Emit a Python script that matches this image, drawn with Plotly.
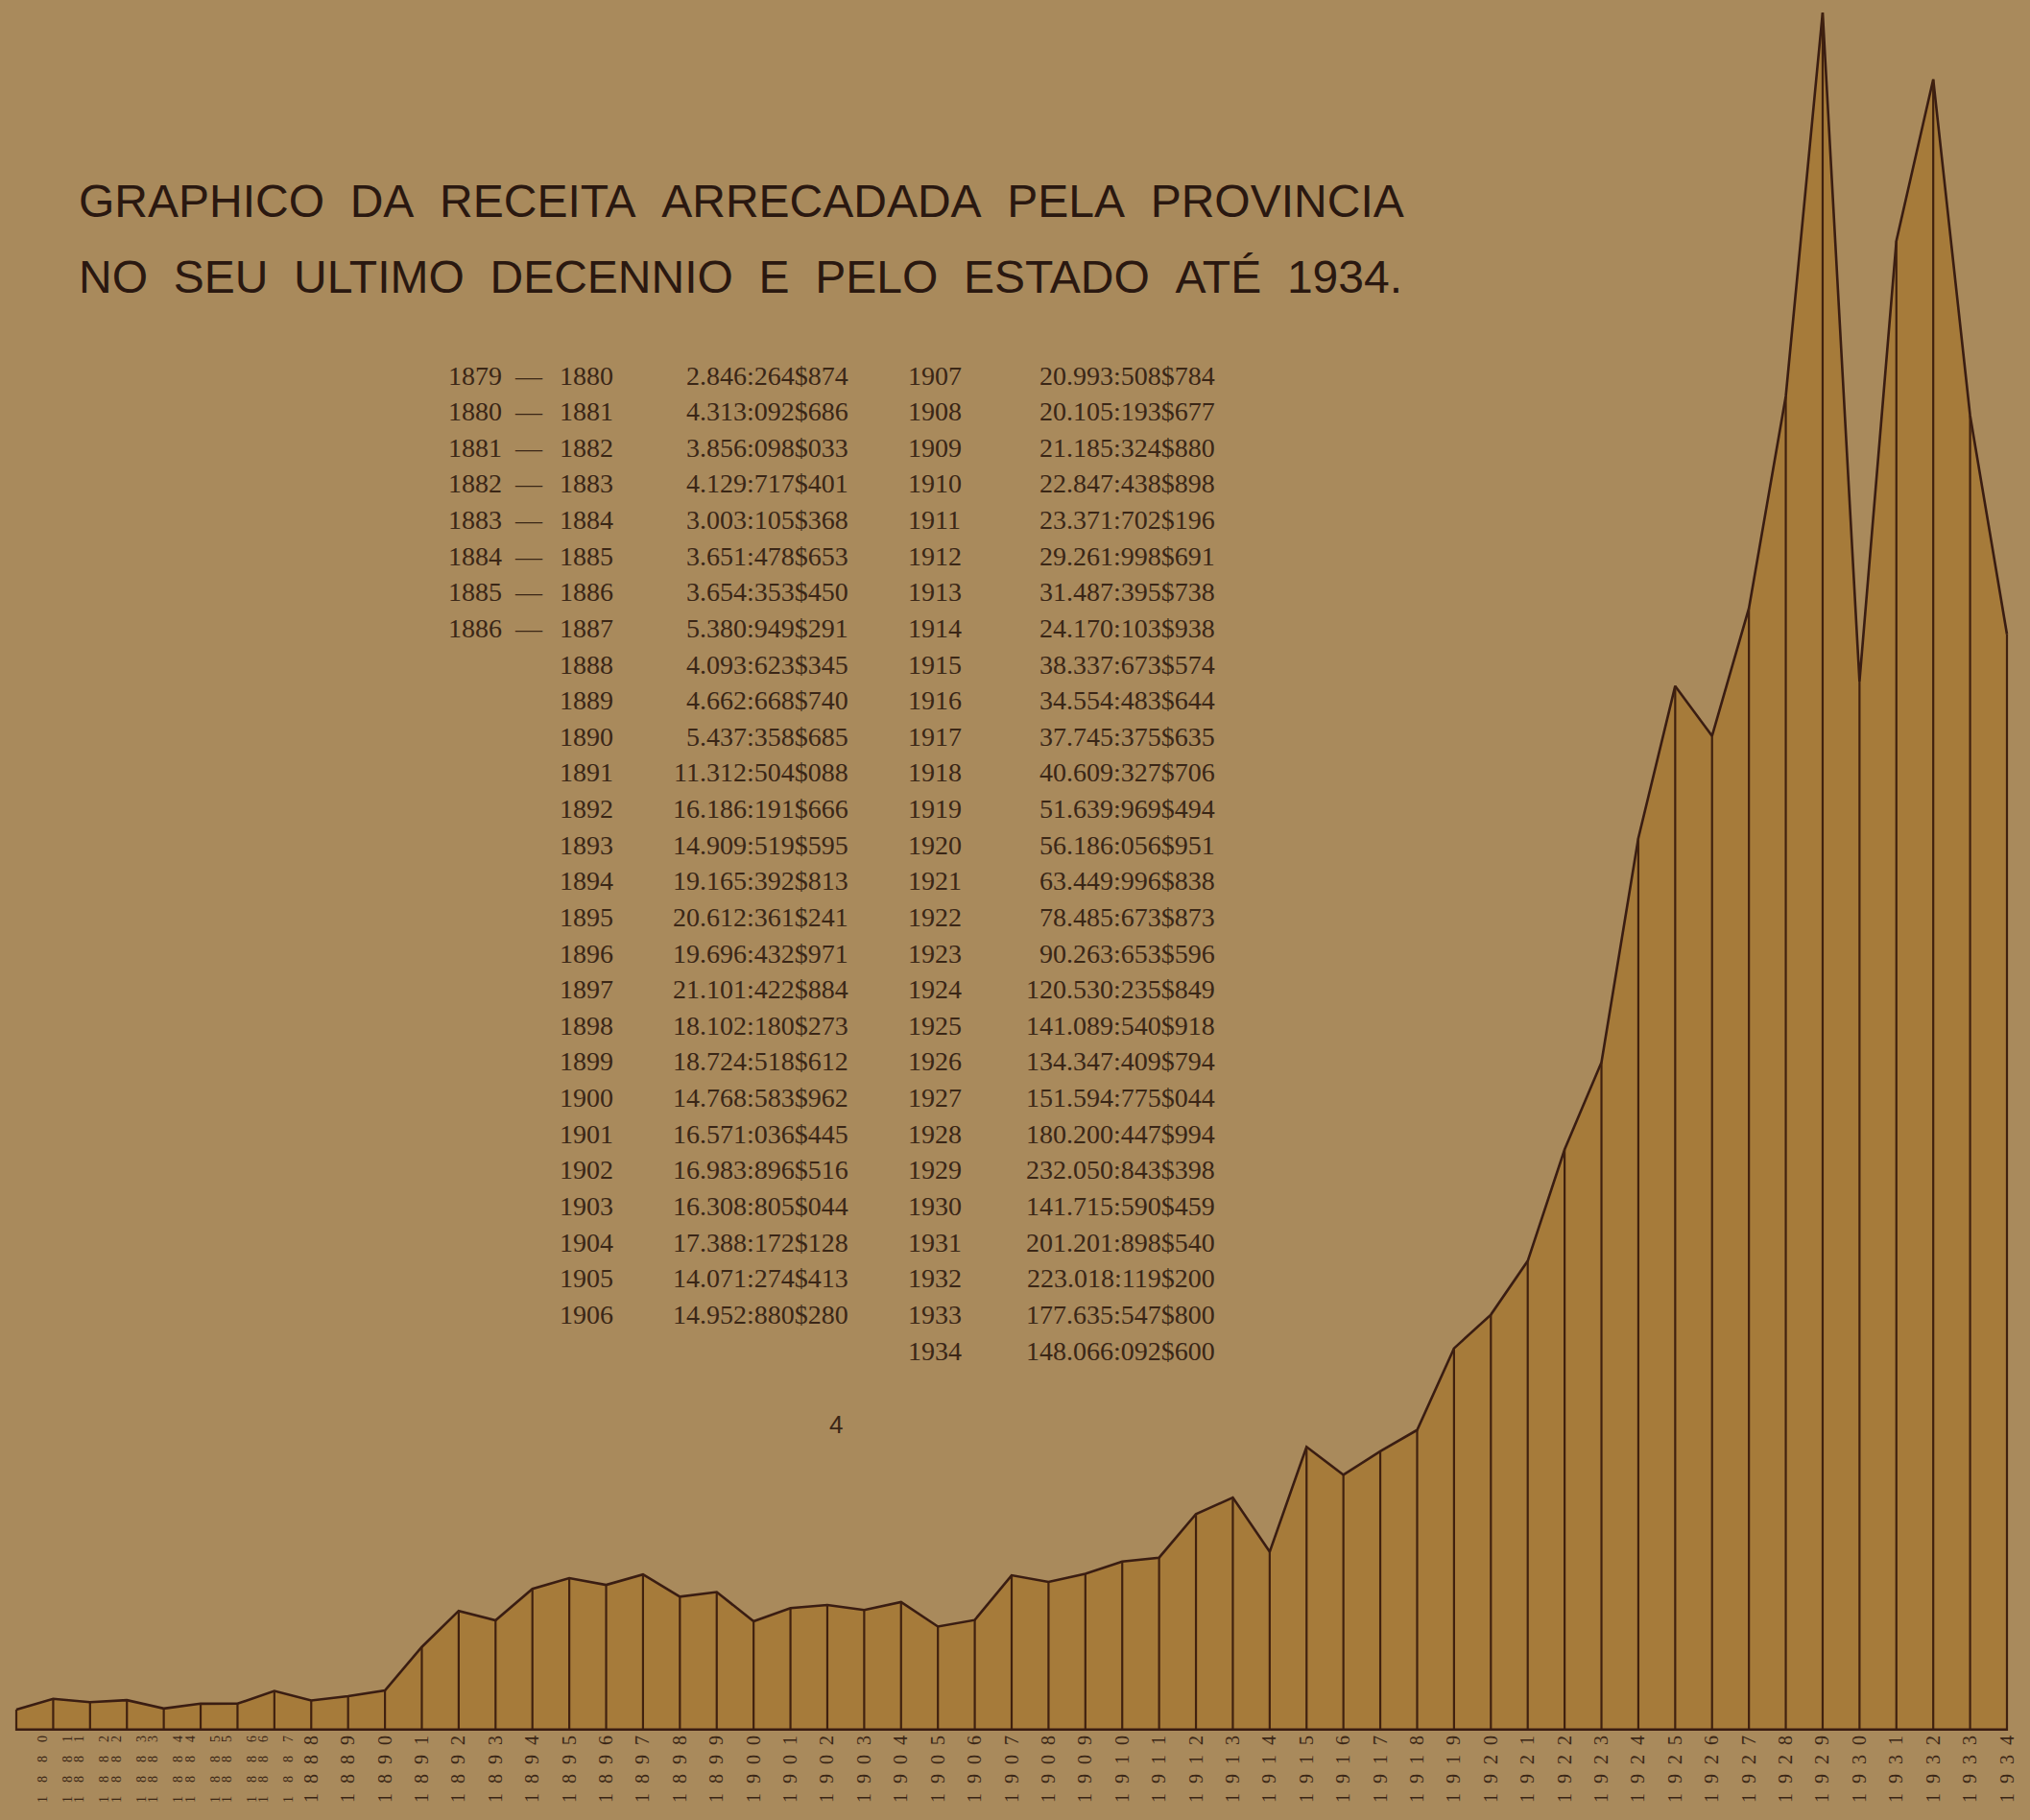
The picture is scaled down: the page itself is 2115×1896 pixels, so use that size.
import plotly.graph_objects as go

# ---------------- data ----------------
period_start = ["1879", "1880", "1881", "1882", "1883", "1884", "1885", "1886"]
years = ["1880", "1881", "1882", "1883", "1884", "1885", "1886", "1887",
         "1888", "1889", "1890", "1891", "1892", "1893", "1894", "1895",
         "1896", "1897", "1898", "1899", "1900", "1901", "1902", "1903",
         "1904", "1905", "1906", "1907", "1908", "1909", "1910", "1911",
         "1912", "1913", "1914", "1915", "1916", "1917", "1918", "1919",
         "1920", "1921", "1922", "1923", "1924", "1925", "1926", "1927",
         "1928", "1929", "1930", "1931", "1932", "1933", "1934"]
# receita arrecadada, em mil-réis
receita = [2846264.874, 4313092.686, 3856098.033, 4129717.401, 3003105.368,
           3651478.653, 3654353.450, 5380949.291, 4093623.345, 4662668.740,
           5437358.685, 11312504.088, 16186191.666, 14909519.595, 19165392.813,
           20612361.241, 19696432.971, 21101422.884, 18102180.273, 18724518.612,
           14768583.962, 16571036.445, 16983896.516, 16308805.044, 17388172.128,
           14071274.413, 14952880.280, 20993508.784, 20105193.677, 21185324.880,
           22847438.898, 23371702.196, 29261998.691, 31487395.738, 24170103.938,
           38337673.574, 34554483.644, 37745375.635, 40609327.706, 51639969.494,
           56186056.951, 63449996.838, 78485673.873, 90263653.596, 120530235.849,
           141089540.918, 134347409.794, 151594775.044, 180200447.994, 232050843.398,
           141715590.459, 201201898.540, 223018119.200, 177635547.800, 148066092.600]

title_lines = ["GRAPHICO  DA  RECEITA  ARRECADADA  PELA  PROVINCIA",
               "NO  SEU  ULTIMO  DECENNIO  E  PELO  ESTADO  ATÉ  1934."]
page_number = "4"

# ---------------- helpers ----------------
W, H = 2115, 1896
PLOT_BOTTOM = 1803  # px, baseline of the graph
SP = "&#8194;"        # en space for spaced-out tick digits
SP_SMALL = "&#8195;"  # em space for the small double labels


def fmt_reis(v):
    contos = int(v // 1000)
    mil = v - contos * 1000
    whole = int(round(mil * 1000))
    mr, cents = divmod(whole, 1000)
    c1, c2 = divmod(contos, 1000)
    return f"{c1}.{c2:03d}:{mr:03d}${cents:03d}"


def px(xp):
    return xp / W


def py(yp):
    return (PLOT_BOTTOM - yp) / PLOT_BOTTOM


def spaced(s, sep):
    return sep.join(list(s))


n = len(years)
xs = list(range(n))
vals = [v / 1e6 for v in receita]

# tick labels
ticktext = []
for i, y in enumerate(years):
    if i < len(period_start):
        ticktext.append(
            f"<span style='font-size:14px'>{spaced(period_start[i], SP_SMALL)}"
            f"<br>{spaced(y, SP_SMALL)}</span>")
    else:
        ticktext.append(spaced(y, SP))

fig = go.Figure()

# filled area with outline
fig.add_trace(go.Scatter(
    x=xs, y=vals, mode="lines", fill="tozeroy",
    fillcolor="#a67b3a",
    line=dict(color="#3a1d12", width=2.6),
    hoverinfo="skip", showlegend=False))

# vertical rules at each year
vx, vy = [], []
for i, v in enumerate(vals):
    vx += [i, i, None]
    vy += [0, v, None]
fig.add_trace(go.Scatter(
    x=vx, y=vy, mode="lines",
    line=dict(color="#40210f", width=2.2),
    hoverinfo="skip", showlegend=False))
# baseline
fig.add_trace(go.Scatter(
    x=[0, n - 1], y=[0, 0], mode="lines",
    line=dict(color="#3a1d12", width=5),
    hoverinfo="skip", showlegend=False))

annotations = []
# title
for k, line in enumerate(title_lines):
    annotations.append(dict(
        x=px(80), y=py(209 + 80 * k), xref="paper", yref="paper",
        xanchor="left", yanchor="middle", showarrow=False,
        text=line.replace("  ", "&nbsp;&nbsp;"),
        font=dict(family="Liberation Sans", size=48, color="#2a1810")))

# table
row0, dy = 391, 37.63
tfont = dict(family="Liberation Serif", size=28, color="#3a2616")
split = 27  # rows in left block
for i in range(n):
    if i < split:
        r = i
        xy, xv = 581, 886
        if i < len(period_start):
            annotations.append(dict(
                x=px(465), y=py(row0 + r * dy), xref="paper", yref="paper",
                xanchor="left", yanchor="middle", showarrow=False,
                text=f"{period_start[i]}&nbsp;&nbsp;—", font=tfont))
    else:
        r = i - split
        xy, xv = 944, 1268
    annotations.append(dict(
        x=px(xy), y=py(row0 + r * dy), xref="paper", yref="paper",
        xanchor="left", yanchor="middle", showarrow=False,
        text=years[i], font=tfont))
    annotations.append(dict(
        x=px(xv), y=py(row0 + r * dy), xref="paper", yref="paper",
        xanchor="right", yanchor="middle", showarrow=False,
        text=fmt_reis(receita[i]), font=tfont))

annotations.append(dict(
    x=px(871), y=py(1484), xref="paper", yref="paper",
    xanchor="center", yanchor="middle", showarrow=False,
    text=page_number, font=dict(family="Liberation Sans", size=26, color="#3a2616")))

ymax_val = max(vals)
fig.update_layout(
    width=W, height=H,
    margin=dict(l=0, r=0, t=0, b=H - PLOT_BOTTOM),
    paper_bgcolor="#a98a5c", plot_bgcolor="#a98a5c",
    xaxis=dict(range=[-17 / 38.4, (n - 1) + 24 / 38.4],
               tickmode="array", tickvals=xs, ticktext=ticktext,
               tickangle=-90, showgrid=False, zeroline=False,
               showline=False, ticks="", ticklen=0,
               tickfont=dict(family="Liberation Serif", size=20, color="#3a2616")),
    yaxis=dict(range=[0, ymax_val * PLOT_BOTTOM / (PLOT_BOTTOM - 13)],
               visible=False, showgrid=False, zeroline=False),
    annotations=annotations,
)

fig.write_html("out.html",
               config={"displayModeBar": False},
               post_script="document.body.style.margin='0';"
                           "document.body.style.overflow='hidden';")
